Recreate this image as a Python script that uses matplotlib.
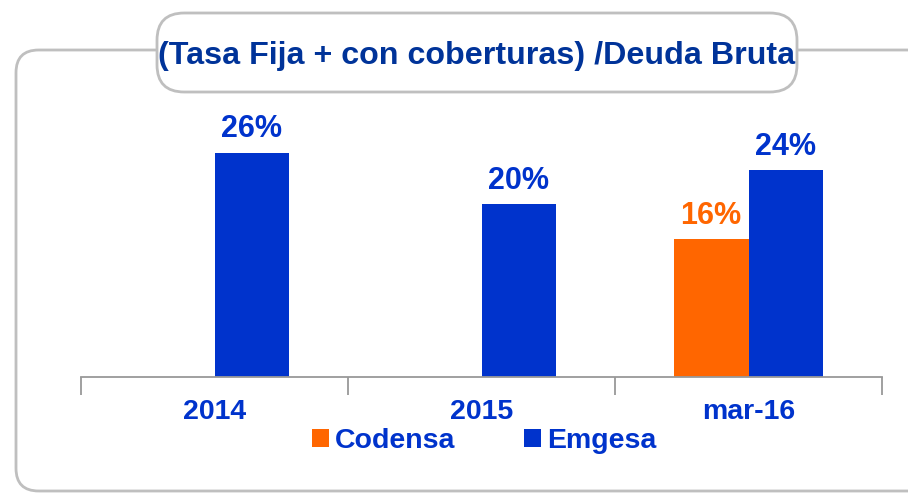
import matplotlib
matplotlib.use("Agg")
import matplotlib.pyplot as plt
from matplotlib.patches import FancyBboxPatch
import numpy as np

plt.rcParams['font.family'] = ['Liberation Sans', 'DejaVu Sans']

# data
categories = ["2014", "2015", "mar-16"]
codensa = [None, None, 16]
emgesa = [26, 20, 24]
series_names = ["Codensa", "Emgesa"]
title = "(Tasa Fija + con coberturas) /Deuda Bruta"

orange = "#FF6600"
blue = "#0033CC"
dark_blue = "#003399"
gray = "#BFBFBF"

W, H = 908, 493
fig = plt.figure(figsize=(W / 100, H / 100), dpi=100)

def fx(px):
    return px / W

def fy(py):
    return 1 - py / H

# outer rounded frame (runs off the right edge)
outer = FancyBboxPatch((fx(16), fy(491)), fx(960) - fx(16), fy(50) - fy(491),
                       boxstyle="round,pad=0,rounding_size=0.025",
                       transform=fig.transFigure, fc="none", ec=gray, lw=2,
                       mutation_aspect=W / H, zorder=0)
fig.patches.append(outer)

# axes
ax = fig.add_axes([fx(81), fy(377), fx(882) - fx(81), (277) / H])
x = np.arange(len(categories))
w = 0.28

cod_x = [xi - w / 2 for xi, v in zip(x, codensa) if v is not None]
cod_v = [v for v in codensa if v is not None]
b1 = ax.bar(cod_x, cod_v, width=w, color=orange, label=series_names[0])
b2 = ax.bar(x + w / 2, emgesa, width=w, color=blue, label=series_names[1])

for xi, v in zip(cod_x, cod_v):
    ax.annotate(f"{v}%", (xi, v), xytext=(0, 6), textcoords="offset points",
                ha="center", va="bottom", fontsize=22, fontweight="bold", color=orange)
for xi, v in zip(x + w / 2, emgesa):
    ax.annotate(f"{v}%", (xi, v), xytext=(0, 6), textcoords="offset points",
                ha="center", va="bottom", fontsize=22, fontweight="bold", color=blue)

ax.set_xlim(-0.5, len(categories) - 0.5)
ax.set_ylim(0, 32.1)
for s in ["top", "right", "left"]:
    ax.spines[s].set_visible(False)
ax.spines["bottom"].set_color("#999999")
ax.spines["bottom"].set_linewidth(1.3)
ax.set_yticks([])
ax.set_xticks(x)
ax.set_xticklabels(categories, fontsize=20.5, fontweight="bold", color=blue)
ax.tick_params(axis="x", which="major", length=0, pad=16)
ax.set_xticks(np.arange(len(categories) + 1) - 0.5, minor=True)
ax.tick_params(axis="x", which="minor", length=13, width=1.3, color="#999999")
ax.patch.set_visible(False)

leg = fig.legend(handles=[b1, b2], loc="center", bbox_to_anchor=(fx(484), fy(441)),
                 ncol=2, frameon=False, handlelength=0.62, handleheight=0.62,
                 handletextpad=0.2, columnspacing=2.4,
                 prop={"size": 20.5, "weight": "bold"})
for t in leg.get_texts():
    t.set_color(blue)

# title box
tbox = FancyBboxPatch((fx(157), fy(92)), fx(797) - fx(157), fy(13) - fy(92),
                      boxstyle="round,pad=0,rounding_size=0.03",
                      transform=fig.transFigure, fc="white", ec=gray, lw=2,
                      mutation_aspect=W / H, zorder=3)
fig.patches.append(tbox)
fig.text(fx(477), fy(56), title, ha="center", va="center", fontsize=23.2,
         fontweight="bold", color=dark_blue, zorder=4)

fig.savefig("out.png", dpi=100)
